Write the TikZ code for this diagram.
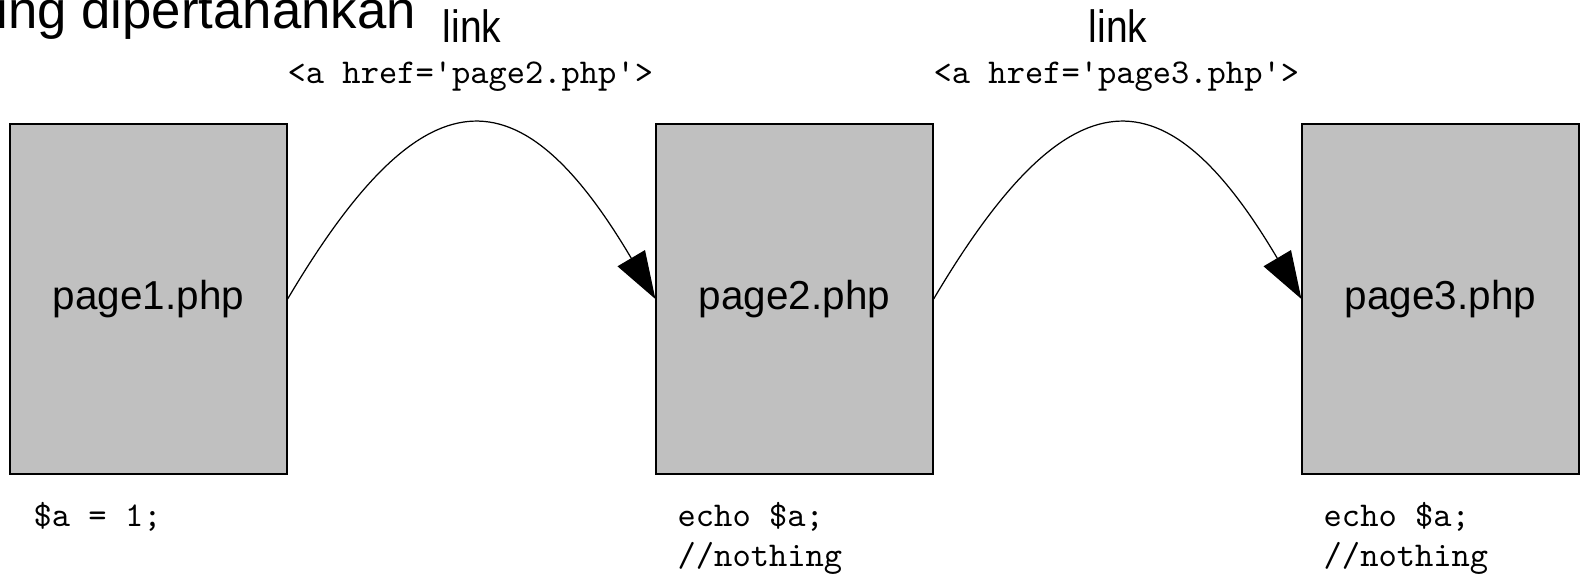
\documentclass[tikz,border=0pt]{standalone}
\usepackage{fontspec}
\usepackage{graphicx}
\setmainfont{Liberation Sans}
\usetikzlibrary{arrows.meta,positioning}
\definecolor{pagegray}{RGB}{192,192,192}

\begin{document}
\begin{tikzpicture}[x=0.1mm,y=-0.1mm]
\tikzstyle{pagebox}=[rectangle,draw=black,line width=0.35pt,fill=pagegray,minimum width=2.77cm,minimum height=3.5cm,inner sep=0pt,font=\fontsize{11.5}{13}\selectfont]
\tikzstyle{code}=[inner sep=0pt,anchor=base west,font=\ttfamily\fontsize{9.9}{11}\selectfont]
\tikzstyle{linklabel}=[inner sep=0pt,anchor=base,font=\fontsize{12.9}{14}\selectfont]
\tikzstyle{jump}=[line width=0.35pt,-{Triangle[length=13.5pt,width=9pt]}]

\useasboundingbox (0,0) rectangle (1584,573);
\clip (0,0) rectangle (1584,573);

\node [inner sep=0pt,anchor=base west,font=\fontsize{15}{17}\selectfont] (title) at (-4,28) {ing dipertahankan};

\node [pagebox] (p1) at (148.5,299) {page1.php};
\node [pagebox] (p2) at (794.5,299) {page2.php};
\node [pagebox] (p3) at (1440.5,299) {page3.php};

\node [linklabel] (l1) at (472,42) {\scalebox{0.86}[1]{link}};
\node [linklabel] (l2) at (1118,42) {\scalebox{0.86}[1]{link}};
\node [code] (h1) at (287,83) {<a href='page2.php'>};
\node [code] (h2) at (933,83) {<a href='page3.php'>};

\node [code] (c1) at (33,526) {\$a = 1;};
\node [code] (c2) at (677,526) {echo \$a;};
\node [code] (c3) at (677,566) {//nothing};
\node [code] (c4) at (1323,526) {echo \$a;};
\node [code] (c5) at (1323,566) {//nothing};

\draw [jump] (p1.east) .. controls +(136,-230) and +(-136,-230) .. (p2.west);
\draw [jump] (p2.east) .. controls +(136,-230) and +(-136,-230) .. (p3.west);
\end{tikzpicture}
\end{document}
